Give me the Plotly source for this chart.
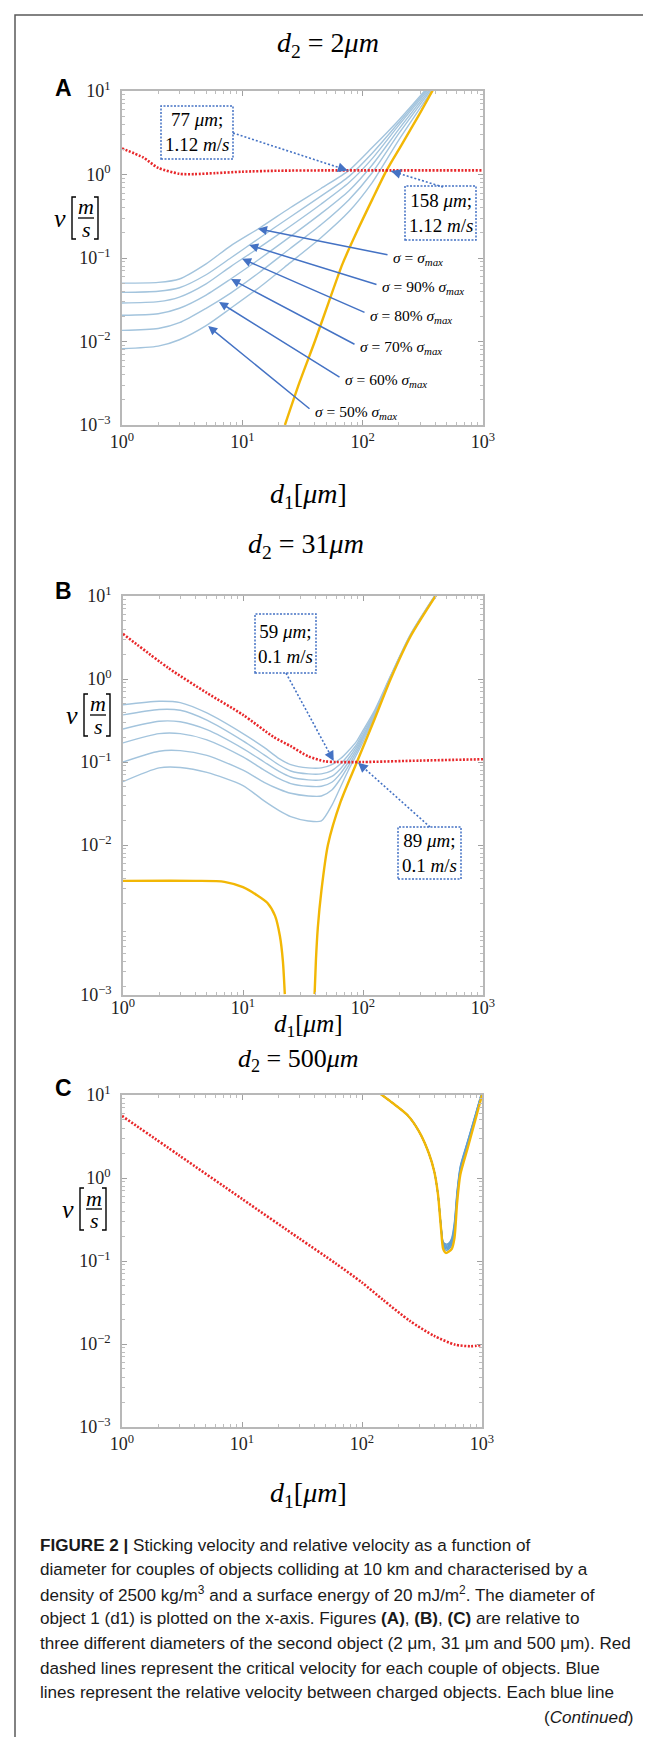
import math
import plotly.graph_objects as go

W, H = 651, 1737

# ================= DATA =================
# Panel A : d2 = 2 um
a_red_d1 = [1, 1.5, 2, 3, 4, 6, 10, 20, 50, 100, 1000]
a_red_v = [2.05, 1.6, 1.2, 1.02, 1.01, 1.04, 1.08, 1.11, 1.12, 1.12, 1.12]

a_yel_d1 = [22.6, 30, 40, 52, 68, 90, 120, 158, 210, 290, 400]
a_yel_v = [0.001, 0.0033, 0.01, 0.029, 0.085, 0.21, 0.50, 1.12, 2.25, 5.0, 11.5]

a_blue_d1 = [1, 2, 3, 5, 8, 14, 25, 45, 77, 120, 200, 400]
a_blue_100 = [0.050, 0.051, 0.056, 0.085, 0.14, 0.23, 0.40, 0.68, 1.12, 2.1, 4.5, 14]
a_blue_90 = [0.0388, 0.040, 0.044, 0.063, 0.10, 0.175, 0.31, 0.55, 0.95, 1.8, 4.2, 13.5]
a_blue_80 = [0.0289, 0.030, 0.034, 0.049, 0.079, 0.135, 0.24, 0.44, 0.80, 1.55, 3.9, 13]
a_blue_70 = [0.0206, 0.0215, 0.025, 0.036, 0.056, 0.098, 0.18, 0.34, 0.64, 1.3, 3.5, 12.5]
a_blue_60 = [0.0136, 0.0143, 0.0168, 0.025, 0.038, 0.068, 0.13, 0.25, 0.50, 1.05, 3.1, 12]
a_blue_50 = [0.0082, 0.0088, 0.0105, 0.0155, 0.025, 0.045, 0.088, 0.175, 0.36, 0.80, 2.6, 11.5]

# arrows pointing at the sigma curves (tip on curve)
a_sig_tip_d1 = [13.5, 11.4, 9.95, 8.05, 6.4, 5.2]
a_sig_tip_v = [0.224, 0.143, 0.098, 0.056, 0.0297, 0.0153]
a_sig_labels = ["<i>σ</i> = <i>σ</i><sub><i>max</i></sub>",
                "<i>σ</i> = 90% <i>σ</i><sub><i>max</i></sub>",
                "<i>σ</i> = 80% <i>σ</i><sub><i>max</i></sub>",
                "<i>σ</i> = 70% <i>σ</i><sub><i>max</i></sub>",
                "<i>σ</i> = 60% <i>σ</i><sub><i>max</i></sub>",
                "<i>σ</i> = 50% <i>σ</i><sub><i>max</i></sub>"]

# Panel B : d2 = 31 um
b_red_d1 = [1, 2.4, 5, 10, 18, 25, 35, 48, 60, 100, 300, 1000]
b_red_v = [3.5, 1.35, 0.68, 0.37, 0.2, 0.155, 0.117, 0.102, 0.1, 0.1, 0.104, 0.108]

b_yel_low_d1 = [1, 4, 7, 10, 13, 16, 18.5, 20.3, 21.5, 22.3]
b_yel_low_v = [0.0037, 0.0037, 0.0036, 0.0031, 0.0025, 0.0020, 0.0014, 0.0008, 0.0004, 0.00016]
b_yel_up_d1 = [39.5, 40.5, 42, 45, 51, 65, 89, 125, 170, 250, 420]
b_yel_up_v = [0.00016, 0.0004, 0.001, 0.0028, 0.01, 0.033, 0.1, 0.33, 1.0, 3.3, 11]

b_blue_d1 = [1, 2, 3, 5, 10, 15, 20, 25, 35, 45, 55, 65, 75, 89, 100, 125, 170, 250, 420]
b_blue_100 = [0.49, 0.54, 0.52, 0.39, 0.22, 0.15, 0.11, 0.093, 0.085, 0.085, 0.093, 0.11, 0.135, 0.18, 0.24, 0.42, 1.1, 3.5, 11.5]
b_blue_90 = [0.37, 0.43, 0.42, 0.32, 0.18, 0.122, 0.092, 0.078, 0.072, 0.072, 0.079, 0.095, 0.12, 0.165, 0.225, 0.40, 1.08, 3.45, 11.4]
b_blue_80 = [0.25, 0.31, 0.305, 0.245, 0.145, 0.10, 0.077, 0.066, 0.061, 0.061, 0.067, 0.083, 0.108, 0.155, 0.21, 0.39, 1.07, 3.4, 11.3]
b_blue_70 = [0.17, 0.22, 0.22, 0.185, 0.115, 0.08, 0.063, 0.055, 0.051, 0.051, 0.057, 0.073, 0.098, 0.145, 0.20, 0.38, 1.06, 3.4, 11.2]
b_blue_60 = [0.10, 0.135, 0.137, 0.12, 0.08, 0.057, 0.047, 0.042, 0.039, 0.039, 0.046, 0.063, 0.088, 0.135, 0.19, 0.37, 1.05, 3.37, 11.1]
b_blue_50 = [0.058, 0.085, 0.086, 0.075, 0.052, 0.034, 0.026, 0.022, 0.0195, 0.0195, 0.03, 0.05, 0.078, 0.125, 0.175, 0.36, 1.04, 3.35, 11.0]

# Panel C : d2 = 500 um
c_red_d1 = [1, 3, 10, 30, 60, 100, 150, 250, 400, 600, 800, 1000]
c_red_v = [5.6, 1.87, 0.56, 0.187, 0.094, 0.055, 0.034, 0.019, 0.0125, 0.0098, 0.0094, 0.0097]

c_yel_d1 = [140, 180, 240, 300, 360, 400, 430, 455, 475, 500, 530, 560, 590, 620, 660, 760, 880, 1000]
c_yel_v = [10.5, 8.0, 5.7, 3.6, 2.0, 1.2, 0.63, 0.25, 0.14, 0.125, 0.13, 0.14, 0.19, 0.5, 1.1, 2.3, 5.0, 10.0]

c_blue_d1 = [140, 180, 240, 300, 360, 400, 430, 455, 475, 500, 530, 560, 590, 620, 660, 760, 880, 1000]
c_blue_100 = [10.5, 8.0, 5.7, 3.6, 2.0, 1.2, 0.63, 0.27, 0.17, 0.16, 0.165, 0.19, 0.30, 0.70, 1.4, 2.8, 5.8, 11]
c_blue_90 = [10.5, 8.0, 5.7, 3.6, 2.0, 1.2, 0.63, 0.27, 0.165, 0.155, 0.16, 0.18, 0.28, 0.66, 1.35, 2.75, 5.7, 10.9]
c_blue_80 = [10.5, 8.0, 5.7, 3.6, 2.0, 1.2, 0.63, 0.265, 0.16, 0.15, 0.155, 0.172, 0.26, 0.63, 1.3, 2.7, 5.6, 10.8]
c_blue_70 = [10.5, 8.0, 5.7, 3.6, 2.0, 1.2, 0.63, 0.265, 0.157, 0.145, 0.15, 0.165, 0.245, 0.6, 1.27, 2.6, 5.5, 10.7]
c_blue_60 = [10.5, 8.0, 5.7, 3.6, 2.0, 1.2, 0.63, 0.26, 0.153, 0.14, 0.145, 0.16, 0.23, 0.57, 1.23, 2.55, 5.4, 10.6]
c_blue_50 = [10.5, 8.0, 5.7, 3.6, 2.0, 1.2, 0.63, 0.26, 0.15, 0.135, 0.14, 0.155, 0.22, 0.55, 1.2, 2.5, 5.3, 10.5]

# intersection call-outs (tip points in data units)
callout_text = ["77 <i>μm</i>;<br>1.12 <i>m</i>/<i>s</i>", "158 <i>μm</i>;<br>1.12 <i>m</i>/<i>s</i>",
                "59 <i>μm</i>;<br>0.1 <i>m</i>/<i>s</i>", "89 <i>μm</i>;<br>0.1 <i>m</i>/<i>s</i>"]
callout_tip_d1 = [75, 172, 57, 91]
callout_tip_v = [1.12, 1.1, 0.103, 0.098]

x_tick_exp = [0, 1, 2, 3]
y_tick_exp = [1, 0, -1, -2, -3]

# ================= LAYOUT CONSTANTS =================
SERIF = "Liberation Serif"
SANS = "Liberation Sans"
RED = "#e8272a"
YEL = "#f2b705"
BLUE = "#a3c4dd"
BLUE_C = "#5f9fd4"
ARROW = "#4472c4"

PANELS = [
    dict(x0=114, x1=475, y0=83, y1=417, yr=[-3, 1], ybottom=-3, xstand=0),
    dict(x0=115, x1=475, y0=588, y1=987, yr=[-3.807, 1], ybottom=-3.807, xstand=-4),
    dict(x0=114, x1=474, y0=1087, y1=1419, yr=[-3, 1], ybottom=-3, xstand=0),
]


def PX(x):
    return x / W


def PY(y):
    return 1 - y / H


def d2px(p, x, v):
    px = p['x0'] + math.log10(x) / 3 * (p['x1'] - p['x0'])
    py = p['y0'] + (p['yr'][1] - math.log10(v)) / (p['yr'][1] - p['yr'][0]) * (p['y1'] - p['y0'])
    return px, py


def sup(e):
    return "10<sup>" + ("−" + str(-e) if e < 0 else str(e)) + "</sup>"


def text_ann(text, x, y, size, family=SERIF, xanchor="center", yanchor="middle", color="black"):
    return dict(text=text, x=PX(x), y=PY(y), xref="paper", yref="paper", showarrow=False,
                xanchor=xanchor, yanchor=yanchor, align="left" if xanchor == "left" else "center",
                font=dict(family=family, size=size, color=color))


minor_vals = [m * 10.0 ** e for e in range(-4, 3) for m in range(2, 10)]

fig = go.Figure()

panel_series = [
    (a_blue_d1, [a_blue_100, a_blue_90, a_blue_80, a_blue_70, a_blue_60, a_blue_50],
     [(a_yel_d1, a_yel_v)], (a_red_d1, a_red_v), BLUE),
    (b_blue_d1, [b_blue_100, b_blue_90, b_blue_80, b_blue_70, b_blue_60, b_blue_50],
     [(b_yel_low_d1, b_yel_low_v), (b_yel_up_d1, b_yel_up_v)], (b_red_d1, b_red_v), BLUE),
    (c_blue_d1, [c_blue_100, c_blue_90, c_blue_80, c_blue_70, c_blue_60, c_blue_50],
     [(c_yel_d1, c_yel_v)], (c_red_d1, c_red_v), BLUE_C),
]

for i, (bx, blues, yels, red, bcol) in enumerate(panel_series):
    xa = "x" if i == 0 else "x%d" % (i + 1)
    ya = "y" if i == 0 else "y%d" % (i + 1)
    for bv in blues:
        fig.add_trace(go.Scatter(x=bx, y=bv, mode="lines", xaxis=xa, yaxis=ya,
                                 line=dict(color=bcol, width=1.4, shape="spline", smoothing=0.7),
                                 hoverinfo="skip", showlegend=False))
    for yx, yv in yels:
        fig.add_trace(go.Scatter(x=yx, y=yv, mode="lines", xaxis=xa, yaxis=ya,
                                 line=dict(color=YEL, width=2.4, shape="spline", smoothing=0.7),
                                 hoverinfo="skip", showlegend=False))
    fig.add_trace(go.Scatter(x=red[0], y=red[1], mode="lines", xaxis=xa, yaxis=ya,
                             line=dict(color=RED, width=2.6, dash="2px,1.6px", shape="spline", smoothing=0.7),
                             hoverinfo="skip", showlegend=False))

layout = dict(template="none", width=W, height=H, margin=dict(l=0, r=0, t=0, b=0, autoexpand=False),
              paper_bgcolor="white", plot_bgcolor="white", showlegend=False)

for i, p in enumerate(PANELS):
    sfx = "" if i == 0 else str(i + 1)
    yvals = [10.0 ** e for e in y_tick_exp[:-1]] + [10.0 ** p['ybottom']]
    common = dict(showline=True, linecolor="#b8b8b8", linewidth=1.5, mirror="ticks",
                  ticks="inside", ticklen=5, tickcolor="#a0a0a0", tickwidth=1,
                  showgrid=False, zeroline=False, automargin=False,
                  minor=dict(ticks="inside", ticklen=3, tickcolor="#bdbdbd", tickwidth=1,
                             tickmode="array", tickvals=minor_vals, showgrid=False),
                  tickfont=dict(family=SERIF, size=18, color="#222"))
    layout["xaxis" + sfx] = dict(type="log", range=[0, 3], domain=[PX(p['x0']), PX(p['x1'])],
                                 anchor="y" + sfx, tickmode="array",
                                 tickvals=[10.0 ** e for e in x_tick_exp],
                                 ticktext=[sup(e) for e in x_tick_exp],
                                 ticklabelstandoff=p['xstand'], **common)
    layout["yaxis" + sfx] = dict(type="log", range=p['yr'], domain=[PY(p['y1']), PY(p['y0'])],
                                 anchor="x" + sfx, tickmode="array", tickvals=yvals,
                                 ticktext=[sup(e) for e in y_tick_exp], ticklabelstandoff=6,
                                 **common)

fig.update_layout(**layout)

ann = []
shapes = []

# outer frame
shapes.append(dict(type="rect", xref="paper", yref="paper", x0=PX(7), x1=PX(720), y0=PY(7), y1=PY(1800),
                   line=dict(color="#5a5a5a", width=1.5)))

# titles, panel letters, x-titles
titles = ["<i>d</i><sub>2</sub> = 2<i>μm</i>", "<i>d</i><sub>2</sub> = 31<i>μm</i>",
          "<i>d</i><sub>2</sub> = 500<i>μm</i>"]
title_pos = [(320, 37), (298, 537), (290, 1052)]
title_size = [28, 28, 26]
letters = ["A", "B", "C"]
letter_pos = [(55, 80), (55, 583), (55, 1080)]
xt_pos = [(300, 488), (300, 1017), (300, 1486)]
xt_size = [28, 25, 28]
yt_pos = [(78, 210), (90, 707), (86, 1201)]

for k in range(3):
    ann.append(text_ann(titles[k], title_pos[k][0], title_pos[k][1], title_size[k]))
    ann.append(text_ann("<b>%s</b>" % letters[k], letter_pos[k][0], letter_pos[k][1], 23, family=SANS))
    ann.append(text_ann("<i>d</i><sub>1</sub>[<i>μm</i>]", xt_pos[k][0], xt_pos[k][1], xt_size[k]))
    # y-axis title  v [m / s]
    cx, cy = yt_pos[k]
    ann.append(text_ann("<i>v</i>", cx - 26, cy, 26))
    ann.append(text_ann("<i>m</i>", cx, cy - 11, 22))
    ann.append(text_ann("<i>s</i>", cx, cy + 11, 22))
    shapes.append(dict(type="line", xref="paper", yref="paper", x0=PX(cx - 8), x1=PX(cx + 8),
                       y0=PY(cy), y1=PY(cy), line=dict(color="black", width=1.3)))
    lb, rb = cx - 14, cx + 12
    shapes.append(dict(type="path", xref="paper", yref="paper",
                       path="M %f,%f L %f,%f L %f,%f L %f,%f" % (PX(lb + 4), PY(cy - 21), PX(lb), PY(cy - 21),
                                                                  PX(lb), PY(cy + 21), PX(lb + 4), PY(cy + 21)),
                       line=dict(color="black", width=1.4)))
    shapes.append(dict(type="path", xref="paper", yref="paper",
                       path="M %f,%f L %f,%f L %f,%f L %f,%f" % (PX(rb - 4), PY(cy - 21), PX(rb), PY(cy - 21),
                                                                  PX(rb), PY(cy + 21), PX(rb - 4), PY(cy + 21)),
                       line=dict(color="black", width=1.4)))

# sigma arrows in panel A
sig_label_pos = [(383, 250), (372, 280), (360, 308), (350, 340), (335, 373), (305, 405)]
sig_tail = [(381, 247), (370, 277), (358, 305), (348, 337), (333, 370), (303, 402)]
for k in range(6):
    tx, ty = d2px(PANELS[0], a_sig_tip_d1[k], a_sig_tip_v[k])
    ann.append(dict(text="", x=math.log10(a_sig_tip_d1[k]), y=math.log10(a_sig_tip_v[k]), xref="x", yref="y",
                    showarrow=True, ax=sig_tail[k][0] - tx, ay=sig_tail[k][1] - ty, axref="pixel", ayref="pixel",
                    arrowhead=2, arrowsize=1.2, arrowwidth=1.5, arrowcolor=ARROW))
    ann.append(text_ann(a_sig_labels[k], sig_label_pos[k][0], sig_label_pos[k][1], 15.5, xanchor="left"))

# call-out boxes with dotted leaders
box_px = [(153, 225, 98, 151), (397, 468, 178, 232), (247, 308, 606, 665), (390, 453, 819, 871)]
tail_px = [(225, 125), (435, 179), (278, 665), (422, 819)]
box_panel = [0, 0, 1, 1]
for k in range(4):
    bx0, bx1, by0, by1 = box_px[k]
    shapes.append(dict(type="rect", xref="paper", yref="paper", x0=PX(bx0), x1=PX(bx1), y0=PY(by1), y1=PY(by0),
                       line=dict(color=ARROW, width=1.5, dash="2px,1.5px"), fillcolor="rgba(255,255,255,0)"))
    ann.append(text_ann(callout_text[k], (bx0 + bx1) / 2, (by0 + by1) / 2, 19))
    p = PANELS[box_panel[k]]
    tx, ty = d2px(p, callout_tip_d1[k], callout_tip_v[k])
    sx, sy = tail_px[k]
    shapes.append(dict(type="line", xref="paper", yref="paper", x0=PX(sx), y0=PY(sy), x1=PX(tx), y1=PY(ty),
                       line=dict(color=ARROW, width=1.6, dash="2px,2px")))
    L = math.hypot(sx - tx, sy - ty)
    sfx = "" if box_panel[k] == 0 else str(box_panel[k] + 1)
    ann.append(dict(text="", x=math.log10(callout_tip_d1[k]), y=math.log10(callout_tip_v[k]),
                    xref="x" + sfx, yref="y" + sfx, showarrow=True,
                    ax=(sx - tx) / L * 9, ay=(sy - ty) / L * 9, axref="pixel", ayref="pixel",
                    arrowhead=2, arrowsize=1.3, arrowwidth=1.5, arrowcolor=ARROW))

# caption
caption_lines = [
    "<b>FIGURE 2 |</b> Sticking velocity and relative velocity as a function of",
    "diameter for couples of objects colliding at 10 km and characterised by a",
    "density of 2500 kg/m<sup>3</sup> and a surface energy of 20 mJ/m<sup>2</sup>. The diameter of",
    "object 1 (d1) is plotted on the x-axis. Figures <b>(A)</b>, <b>(B)</b>, <b>(C)</b> are relative to",
    "three different diameters of the second object (2 μm, 31 μm and 500 μm). Red",
    "dashed lines represent the critical velocity for each couple of objects. Blue",
    "lines represent the relative velocity between charged objects. Each blue line",
]
for k, line in enumerate(caption_lines):
    ann.append(text_ann(line, 30, 1537 + 24.6 * k, 17.1, family=SANS, xanchor="left", color="#1a1a1a"))
ann.append(text_ann("(<i>Continued</i>)", 627, 1537 + 24.6 * 7, 17.1, family=SANS, xanchor="right",
                    color="#1a1a1a"))

fig.update_layout(annotations=ann, shapes=shapes)
fig.write_html("out.html")
